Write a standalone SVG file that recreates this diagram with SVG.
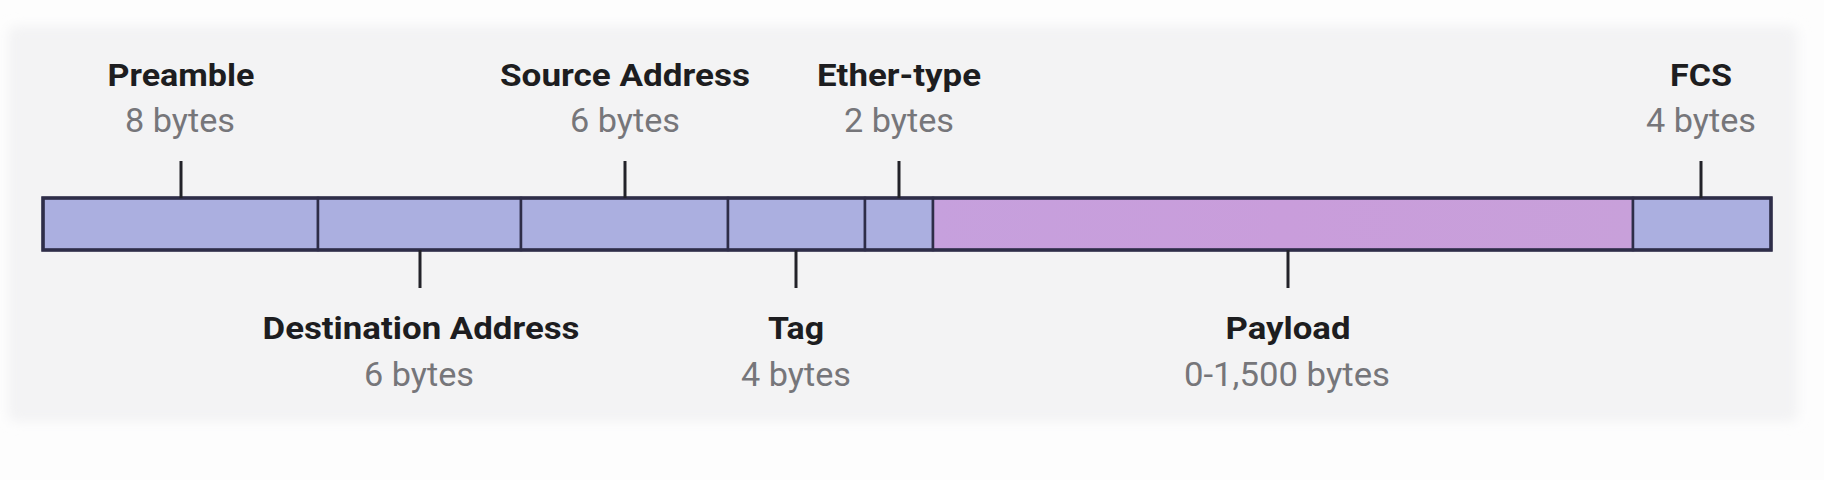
<svg xmlns="http://www.w3.org/2000/svg" width="1824" height="480" viewBox="0 0 1824 480">
  <defs>
    <filter id="soft" x="-5%" y="-10%" width="110%" height="120%">
      <feGaussianBlur stdDeviation="6"/>
    </filter>
    <linearGradient id="payGrad" x1="0" y1="0" x2="1" y2="0">
      <stop offset="0" stop-color="#c6a0dd"/>
      <stop offset="0.5" stop-color="#c99ddb"/>
      <stop offset="1" stop-color="#c8a0da"/>
    </linearGradient>
  </defs>
  <style>
    .seg { fill: #abafe0; stroke: #2e2d48; stroke-width: 2.5; }
    .pay { fill: url(#payGrad); stroke: #2e2d48; stroke-width: 2.5; }
    .tick { stroke: #222229; stroke-width: 3; fill: none; }
    .title { font-family: Roboto, "Liberation Sans", sans-serif; font-weight: 700; font-size: 31px; fill: #1d1d20; text-anchor: middle; }
    .size { font-family: Roboto, "Liberation Sans", sans-serif; font-weight: 400; font-size: 33px; fill: #76767a; text-anchor: middle; }
  </style>
  <rect x="0" y="0" width="1824" height="480" fill="#fdfdfd"/>
  <rect x="8" y="26" width="1790" height="396" rx="8" fill="#f3f3f4" filter="url(#soft)"/>

  <g id="preamble">
    <rect class="seg" x="43" y="198" width="275" height="52"/>
    <text class="title" x="181" y="86" textLength="147" lengthAdjust="spacingAndGlyphs">Preamble</text>
    <text class="size" x="180" y="132" textLength="110" lengthAdjust="spacingAndGlyphs">8 bytes</text>
  </g>
  <g id="destination">
    <rect class="seg" x="318" y="198" width="203" height="52"/>
    <text class="title" x="421" y="339" textLength="317" lengthAdjust="spacingAndGlyphs">Destination Address</text>
    <text class="size" x="419" y="386" textLength="110" lengthAdjust="spacingAndGlyphs">6 bytes</text>
  </g>
  <g id="source">
    <rect class="seg" x="521" y="198" width="207" height="52"/>
    <text class="title" x="625" y="86" textLength="250" lengthAdjust="spacingAndGlyphs">Source Address</text>
    <text class="size" x="625" y="132" textLength="110" lengthAdjust="spacingAndGlyphs">6 bytes</text>
  </g>
  <g id="tag">
    <rect class="seg" x="728" y="198" width="137" height="52"/>
    <text class="title" x="796" y="339" textLength="56" lengthAdjust="spacingAndGlyphs">Tag</text>
    <text class="size" x="796" y="386" textLength="110" lengthAdjust="spacingAndGlyphs">4 bytes</text>
  </g>
  <g id="ethertype">
    <rect class="seg" x="865" y="198" width="68" height="52"/>
    <text class="title" x="899" y="86" textLength="164" lengthAdjust="spacingAndGlyphs">Ether-type</text>
    <text class="size" x="899" y="132" textLength="110" lengthAdjust="spacingAndGlyphs">2 bytes</text>
  </g>
  <g id="payload">
    <rect class="pay" x="933" y="198" width="700" height="52"/>
    <text class="title" x="1288" y="339" textLength="125" lengthAdjust="spacingAndGlyphs">Payload</text>
    <text class="size" x="1287" y="386" textLength="206" lengthAdjust="spacingAndGlyphs">0-1,500 bytes</text>
  </g>
  <g id="fcs">
    <rect class="seg" x="1633" y="198" width="138" height="52"/>
    <text class="title" x="1701" y="86" textLength="62" lengthAdjust="spacingAndGlyphs">FCS</text>
    <text class="size" x="1701" y="132" textLength="110" lengthAdjust="spacingAndGlyphs">4 bytes</text>
  </g>
  <rect x="43" y="198" width="1728" height="52" fill="none" stroke="#2e2d48" stroke-width="3.5"/>

  <g id="connectors">
    <line class="tick" x1="181" y1="161" x2="181" y2="198"/>
    <line class="tick" x1="625" y1="161" x2="625" y2="198"/>
    <line class="tick" x1="899" y1="161" x2="899" y2="198"/>
    <line class="tick" x1="1701" y1="161" x2="1701" y2="198"/>
    <line class="tick" x1="420" y1="250" x2="420" y2="288"/>
    <line class="tick" x1="796" y1="250" x2="796" y2="288"/>
    <line class="tick" x1="1288" y1="250" x2="1288" y2="288"/>
  </g>
</svg>
